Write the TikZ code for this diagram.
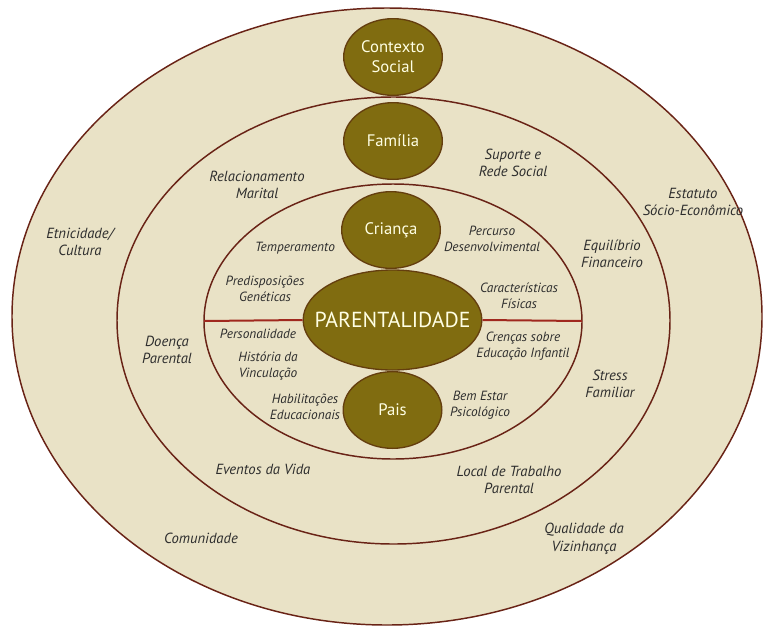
\documentclass[tikz,border=0pt]{standalone}
\usepackage{fontspec}
\setmainfont{PT Sans}
\usetikzlibrary{shapes.geometric}

\definecolor{ringfill}{RGB}{233,226,198}
\definecolor{ringline}{RGB}{105,35,22}
\definecolor{axisline}{RGB}{160,40,30}
\definecolor{olivefill}{RGB}{128,108,16}
\definecolor{oliveline}{RGB}{100,62,14}
\definecolor{labeltext}{RGB}{45,45,45}
\definecolor{bubbletext}{RGB}{255,255,228}

\begin{document}
\begin{tikzpicture}[x=0.75pt,y=0.75pt,yscale=-1,xscale=1,
  ring/.style={draw=ringline,fill=ringfill,line width=1.1pt},
  bubble/.style={ellipse,draw=oliveline,fill=olivefill,line width=1pt,inner sep=0pt,
    minimum width=74pt,minimum height=57.5pt,text=bubbletext,align=center,
    font=\fontsize{12.5}{15}\selectfont},
  lbl/.style={text=labeltext,align=center,inner sep=0pt,font=\itshape\fontsize{11}{13.2}\selectfont},
  lblsm/.style={text=labeltext,align=center,inner sep=0pt,font=\itshape\fontsize{10}{11.6}\selectfont}]
%set diagram to 763 x 625
\clip (0,0) rectangle (763,625);
%Rings
\draw [ring] (387,316.5) ellipse [x radius=375,y radius=308.5];
\draw [ring] (393.5,320.5) ellipse [x radius=276.5,y radius=223.5];
\draw [ring] (393,321.5) ellipse [x radius=189,y radius=137.5];
\coordinate (innerL) at (204,321);
\coordinate (innerR) at (582,321);

%Bubbles
\node [bubble] (ctx) at (393,57) {Contexto\\Social};
\node [bubble] (fam) at (393,141) {Família};
\node [bubble] (cri) at (391,230) {Criança};
\node [bubble,minimum width=134pt,minimum height=75pt,inner xsep=-20pt,
  font=\fontsize{16.3}{18}\selectfont] (par) at (392.5,320) {PARENTALIDADE};
\node [bubble] (pai) at (392.5,410) {Pais};

%Axis
\draw [axisline,line width=1.5pt] (innerL) -- (par.west);
\draw [axisline,line width=1.5pt] (par.east) -- (innerR);

% Text Node -- outer ring
\node [lbl] (etn) at (80,242) {Etnicidade/\\Cultura};
\node [lbl] (est) at (693,202) {Estatuto\\Sócio-Econômico};
\node [lbl] (com) at (201,538) {Comunidade};
\node [lbl] (qua) at (584,539) {Qualidade da\\Vizinhança};

% Text Node -- middle ring
\node [lbl] (rel) at (257,185) {Relacionamento\\Marital};
\node [lbl] (sup) at (513,163) {Suporte e\\Rede Social};
\node [lbl] (equ) at (612,254) {Equilíbrio\\Financeiro};
\node [lbl] (doe) at (167,350) {Doença\\Parental};
\node [lbl] (str) at (610,384) {Stress\\Familiar};
\node [lbl] (eve) at (263,469) {Eventos da Vida};
\node [lbl] (loc) at (509,480) {Local de Trabalho\\Parental};

% Text Node -- inner ring
\node [lblsm] (tem) at (295,248) {Temperamento};
\node [lblsm] (per) at (492,239) {Percurso\\Desenvolvimental};
\node [lblsm] (pre) at (265,289) {Predisposições\\Genéticas};
\node [lblsm] (car) at (519,296) {Características\\Físicas};
\node [lblsm] (pes) at (258,334) {Personalidade};
\node [lblsm] (cre) at (523,346) {Crenças sobre\\Educação Infantil};
\node [lblsm] (his) at (268,366) {História da\\Vinculação};
\node [lblsm] (hab) at (305,407) {Habilitações\\Educacionais};
\node [lblsm] (bem) at (480,405) {Bem Estar\\Psicológico};
\end{tikzpicture}
\end{document}
